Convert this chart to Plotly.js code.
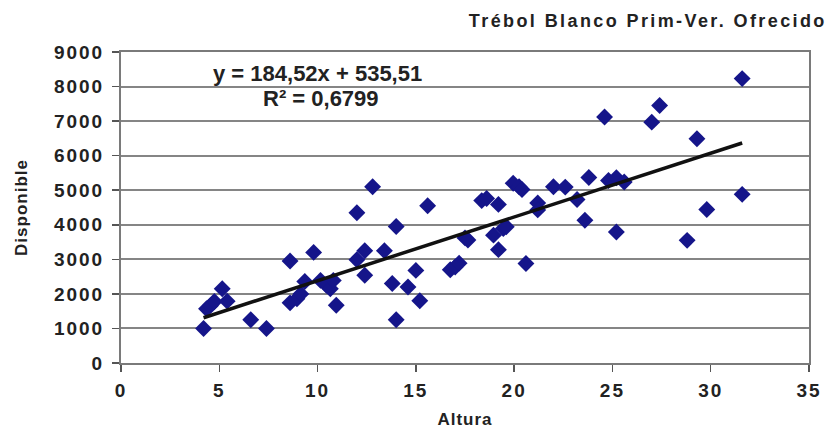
<!DOCTYPE html>
<html>
<head>
<meta charset="utf-8">
<script src="https://cdn.plot.ly/plotly-3.0.1.min.js"></script>
<style>
  html, body { margin: 0; padding: 0; background: #ffffff; }
  #chart { width: 828px; height: 429px; }
  .gtitle { letter-spacing: 2.4px; }
  .xtick text, .ytick text { letter-spacing: 2px; }
  .xtitle, .ytitle { letter-spacing: 1px; }
</style>
</head>
<body>
<div id="chart"></div>
<script>
// Altura (x) vs Disponible (y) observations
const altura = [
  4.2, 4.35, 4.55, 4.75, 5.15, 5.4, 6.6, 7.4, 8.6, 8.6,
  8.95, 9.15, 9.35, 9.8, 10.15, 10.45, 10.65, 10.8, 10.95, 12.0,
  12.0, 12.4, 12.4, 12.8, 13.4, 13.8, 14.0, 14.0, 14.6, 15.0,
  15.2, 15.6, 16.75, 17.0, 17.2, 17.5, 17.65, 18.35, 18.6, 18.95,
  19.2, 19.2, 19.45, 19.6, 19.95, 20.25, 20.4, 20.6, 21.2, 21.2,
  22.0, 22.6, 23.2, 23.6, 23.8, 24.6, 24.8, 25.2, 25.2, 25.6,
  27.0, 27.4, 28.8, 29.3, 29.8, 31.6, 31.6
];
const disponible = [
  1000, 1570, 1660, 1780, 2150, 1790, 1250, 1000, 2950, 1740,
  1860, 2000, 2360, 3200, 2390, 2250, 2150, 2390, 1670, 4350,
  2990, 3250, 2540, 5100, 3250, 2300, 3950, 1250, 2200, 2680,
  1800, 4550, 2700, 2780, 2890, 3620, 3560, 4700, 4760, 3700,
  4590, 3280, 3890, 3940, 5200, 5100, 5020, 2880, 4630, 4430,
  5100, 5090, 4730, 4130, 5370, 7120, 5280, 5360, 3790, 5240,
  6970, 7450, 3550, 6490, 4440, 8230, 4880
];

// Linear fit shown in the equation label
const slope = 184.52;
const intercept = 535.51;
const rSquared = 0.6799;

const xTicks = [0, 5, 10, 15, 20, 25, 30, 35];
const yTicks = [0, 1000, 2000, 3000, 4000, 5000, 6000, 7000, 8000, 9000];

const chartTitle = 'Trébol Blanco Prim-Ver. Ofrecido';
const xLabel = 'Altura';
const yLabel = 'Disponible';

const fmt = v => v.toFixed(2).replace('.', ',');
const xMin = Math.min(...altura);
const xMax = Math.max(...altura);
const fitX = [xMin, xMax];
const fitY = fitX.map(x => slope * x + intercept);

const font = { family: 'Liberation Sans, Arial, sans-serif', color: '#222222', weight: 'bold' };
const withSize = s => Object.assign({}, font, { size: s });

const traces = [
  {
    x: altura, y: disponible, type: 'scatter', mode: 'markers',
    marker: { symbol: 'diamond', size: 13, color: '#15158a' },
    hoverinfo: 'x+y'
  },
  {
    x: fitX, y: fitY, type: 'scatter', mode: 'lines',
    line: { color: '#111111', width: 3.5 },
    hoverinfo: 'skip'
  }
];

const axisCommon = {
  showline: true, linecolor: '#7a7a7a', linewidth: 2, mirror: true,
  ticks: 'outside', ticklen: 7, tickwidth: 1.5, tickcolor: '#555555',
  zeroline: false, fixedrange: true
};

const layout = {
  width: 828, height: 429,
  margin: { l: 121, r: 19, t: 52, b: 66 },
  paper_bgcolor: '#ffffff', plot_bgcolor: '#ffffff',
  showlegend: false,
  title: {
    text: chartTitle,
    x: 0.9985, xanchor: 'right', xref: 'container',
    y: 0.952, yanchor: 'middle', yref: 'container',
    font: withSize(18)
  },
  xaxis: Object.assign({}, axisCommon, {
    range: [0, 35], tickvals: xTicks, ticktext: xTicks.map(String),
    showgrid: false,
    tickfont: withSize(19),
    ticklabelstandoff: 2,
    title: { text: xLabel, standoff: 14, font: withSize(17) }
  }),
  yaxis: Object.assign({}, axisCommon, {
    range: [0, 9000], tickvals: yTicks, ticktext: yTicks.map(String),
    showgrid: true, gridcolor: '#858585', gridwidth: 2,
    tickfont: withSize(19),
    ticklabelstandoff: 4,
    title: { text: yLabel, standoff: 22, font: withSize(17) }
  }),
  annotations: [
    {
      xref: 'paper', yref: 'paper', x: 0.286, y: 0.932,
      xanchor: 'center', yanchor: 'middle', showarrow: false,
      text: 'y = ' + fmt(slope) + 'x + ' + fmt(intercept),
      font: withSize(22)
    },
    {
      xref: 'paper', yref: 'paper', x: 0.291, y: 0.852,
      xanchor: 'center', yanchor: 'middle', showarrow: false,
      text: 'R² = ' + rSquared.toFixed(4).replace('.', ','),
      font: withSize(22)
    }
  ]
};

Plotly.newPlot('chart', traces, layout, { displayModeBar: false, staticPlot: true });
</script>
</body>
</html>
